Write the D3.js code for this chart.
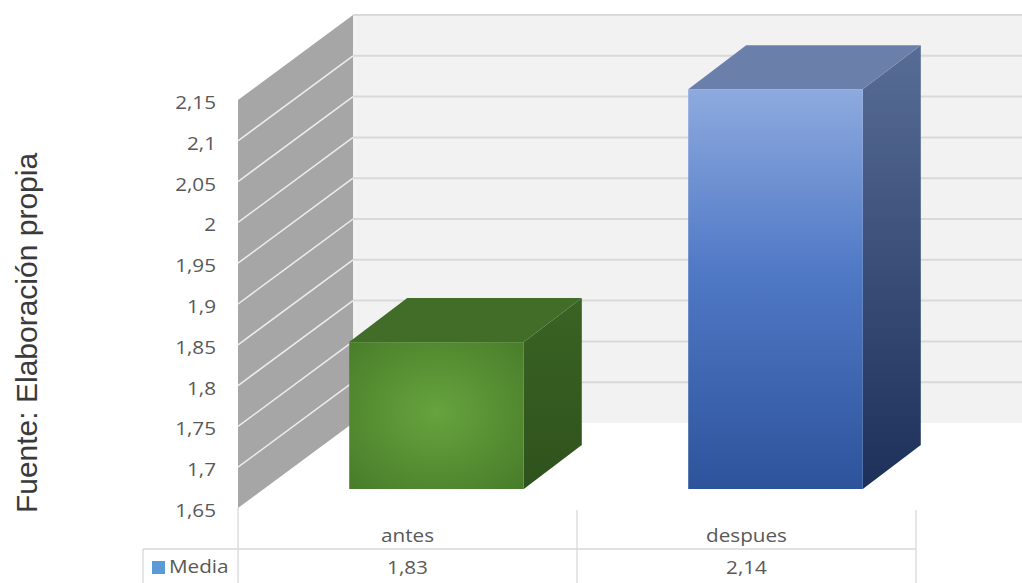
<!DOCTYPE html>
<html>
<head>
<meta charset="utf-8">
<script src="https://cdn.jsdelivr.net/npm/d3@7/dist/d3.min.js"></script>
<style>
  html, body { margin: 0; padding: 0; background: #ffffff; }
  svg { display: block; }
</style>
</head>
<body>
<svg id="chart" width="1022" height="583"></svg>
<script>
// Data
const categories = ["antes", "despues"];
const seriesName = "Media";
const seriesValues = [1.83, 2.14];
const yTicks = [1.65, 1.7, 1.75, 1.8, 1.85, 1.9, 1.95, 2, 2.05, 2.1, 2.15];
const sourceNote = "Fuente: Elaboración propia";

const svg = d3.select("#chart");
const fmt = v => String(+v.toFixed(2)).replace(".", ",");

// Front plane scales
const y = d3.scaleLinear().domain([1.65, 2.15]).range([508, 100]);
const x = d3.scaleBand().domain(categories).range([238, 916]);

// Oblique depth offsets
const wallDepth = { dx: 115, dy: -85 };
const barFront = { dx: 29, dy: -19 };
const barDepth = { dx: 58, dy: -44 };
const barRatio = 0.515;

const defs = svg.append("defs");
const green = defs.append("radialGradient").attr("id", "gFront")
  .attr("cx", "50%").attr("cy", "48%").attr("r", "72%");
green.append("stop").attr("offset", "0%").attr("stop-color", "#67a33e");
green.append("stop").attr("offset", "100%").attr("stop-color", "#477c29");

const blue = defs.append("linearGradient").attr("id", "bFront")
  .attr("x1", 0).attr("y1", 0).attr("x2", 0).attr("y2", 1);
blue.append("stop").attr("offset", "0%").attr("stop-color", "#8eaadf");
blue.append("stop").attr("offset", "45%").attr("stop-color", "#5079c6");
blue.append("stop").attr("offset", "100%").attr("stop-color", "#2d539b");

const blueSide = defs.append("linearGradient").attr("id", "bSide")
  .attr("x1", 0).attr("y1", 0).attr("x2", 0).attr("y2", 1);
blueSide.append("stop").attr("offset", "0%").attr("stop-color", "#586d96");
blueSide.append("stop").attr("offset", "100%").attr("stop-color", "#1c3059");

const greenSide = defs.append("linearGradient").attr("id", "gSide")
  .attr("x1", 0).attr("y1", 0).attr("x2", 0).attr("y2", 1);
greenSide.append("stop").attr("offset", "0%").attr("stop-color", "#3a6324");
greenSide.append("stop").attr("offset", "100%").attr("stop-color", "#2f521c");

const faces = [
  { front: "url(#gFront)", top: "#416d28", side: "url(#gSide)" },
  { front: "url(#bFront)", top: "#6a80ab", side: "url(#bSide)" }
];

const y0 = y.domain()[0], y1 = y.domain()[1];
const xL = x.range()[0], xR = x.range()[1];

// Back wall
const backTop = y(y1) + wallDepth.dy, backBottom = y(y0) + wallDepth.dy;
const backLeft = xL + wallDepth.dx, backRight = xR + wallDepth.dx;
svg.append("rect")
  .attr("x", backLeft).attr("y", backTop)
  .attr("width", backRight - backLeft).attr("height", backBottom - backTop)
  .attr("fill", "#f2f2f2");
svg.append("g").selectAll("line").data(yTicks.slice(1)).join("line")
  .attr("x1", backLeft).attr("x2", backRight)
  .attr("y1", d => y(d) + wallDepth.dy).attr("y2", d => y(d) + wallDepth.dy)
  .attr("stroke", "#d9d9d9").attr("stroke-width", 2);

// Side wall
svg.append("polygon")
  .attr("points", [
    [xL, y(y1)], [backLeft, backTop], [backLeft, backBottom], [xL, y(y0)]
  ].map(p => p.join(",")).join(" "))
  .attr("fill", "#a6a6a6");
svg.append("g").selectAll("line").data(yTicks.slice(1, -1)).join("line")
  .attr("x1", xL).attr("y1", d => y(d))
  .attr("x2", backLeft).attr("y2", d => y(d) + wallDepth.dy)
  .attr("stroke", "#ededed").attr("stroke-width", 1.5);

// Y tick labels
svg.append("g").selectAll("text").data(yTicks).join("text")
  .attr("transform", d => `translate(216,${y(d) + 9}) scale(1.15,1)`)
  .attr("text-anchor", "end")
  .attr("font-family", "'Open Sans', sans-serif")
  .attr("font-size", 18)
  .attr("fill", "#595959")
  .text(d => fmt(d));

// 3D bars
const bw = x.bandwidth() * barRatio;
const base = y(y0) + barFront.dy;
const bars = svg.append("g").selectAll("g").data(categories).join("g");
bars.each(function(c, i) {
  const g = d3.select(this);
  const L = x(c) + (x.bandwidth() - bw) / 2 + barFront.dx;
  const R = L + bw;
  const T = y(seriesValues[i]) + barFront.dy;
  const dx = barDepth.dx, dy = barDepth.dy;
  const pts = a => a.map(p => p.join(",")).join(" ");
  g.append("polygon")
    .attr("points", pts([[R, T], [R + dx, T + dy], [R + dx, base + dy], [R, base]]))
    .attr("fill", faces[i].side);
  g.append("polygon")
    .attr("points", pts([[L, T], [L + dx, T + dy], [R + dx, T + dy], [R, T]]))
    .attr("fill", faces[i].top);
  g.append("rect")
    .attr("x", L).attr("y", T).attr("width", bw).attr("height", base - T)
    .attr("fill", faces[i].front);
});

// Data table
const line = "#d9d9d9";
const tbl = svg.append("g").attr("stroke", line).attr("stroke-width", 1.3);
tbl.append("line").attr("x1", xL).attr("x2", xL).attr("y1", y(y0)).attr("y2", 583);
tbl.selectAll("line.col").data(categories).join("line").attr("class", "col")
  .attr("x1", d => x(d) + x.bandwidth()).attr("x2", d => x(d) + x.bandwidth())
  .attr("y1", 510).attr("y2", 583);
tbl.append("line").attr("x1", 143).attr("x2", xR).attr("y1", 549).attr("y2", 549);
tbl.append("line").attr("x1", 143).attr("x2", 143).attr("y1", 549).attr("y2", 583);

const tfont = sel => sel
  .attr("font-family", "'Open Sans', sans-serif")
  .attr("font-size", 18)
  .attr("fill", "#595959");

svg.append("g").selectAll("text").data(categories).join("text")
  .attr("transform", d => `translate(${x(d) + x.bandwidth() / 2},542) scale(1.15,1)`)
  .attr("text-anchor", "middle")
  .call(tfont)
  .text(d => d);

svg.append("g").selectAll("text").data(seriesValues).join("text")
  .attr("transform", (d, i) => `translate(${x(categories[i]) + x.bandwidth() / 2},574) scale(1.15,1)`)
  .attr("text-anchor", "middle")
  .call(tfont)
  .text(d => fmt(d));

svg.append("rect").attr("x", 152).attr("y", 561).attr("width", 13).attr("height", 13)
  .attr("fill", "#5b9bd5");
svg.append("text")
  .attr("transform", "translate(169,573) scale(1.15,1)")
  .call(tfont)
  .text(seriesName);

// Source note
svg.append("text")
  .attr("transform", "translate(37,333) rotate(-90)")
  .attr("text-anchor", "middle")
  .attr("font-family", "'Liberation Sans', Arial, sans-serif")
  .attr("font-size", 30)
  .attr("fill", "#3a3a3a")
  .text(sourceNote);
</script>
</body>
</html>
